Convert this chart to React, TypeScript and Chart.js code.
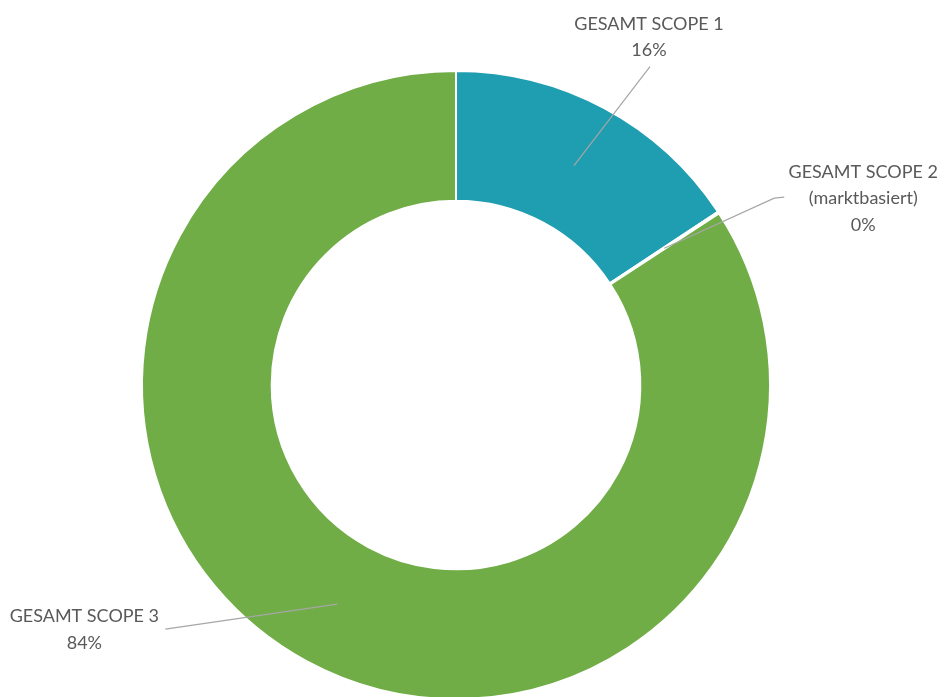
import React, { useEffect, useRef } from "react";
import { Chart, registerables } from "chart.js";

Chart.register(...registerables);

const categories = ["GESAMT SCOPE 1", "GESAMT SCOPE 2 (marktbasiert)", "GESAMT SCOPE 3"];
const labelLines = [["GESAMT SCOPE 1", "16%"], ["GESAMT SCOPE 2", "(marktbasiert)", "0%"], ["GESAMT SCOPE 3", "84%"]];
const shares = [15.7, 0.1, 84.2];
const colors = ["#1F9DB1", "#A5A5A5", "#70AD47"];

// label layout: offsets from slice anchor (mid-angle, mid-ring)
const labelLayout = [
  { leader: [[76, -99]], text: [75, -141.5] },
  { leader: [[110, -50], [120, -51]], text: [199, -76.5] },
  { leader: [[-172, 25]], text: [-253, 12.5] },
];

const labelPlugin = {
  id: "outLabels",
  afterDatasetsDraw(chart: any) {
    const ctx = chart.ctx;
    const meta = chart.getDatasetMeta(0);
    ctx.save();
    meta.data.forEach((arc: any, i: number) => {
      const p = arc.getProps(["x", "y", "startAngle", "endAngle", "innerRadius", "outerRadius"], true);
      const mid = (p.startAngle + p.endAngle) / 2;
      const r = (p.innerRadius + p.outerRadius) / 2;
      const ax = p.x + Math.cos(mid) * r;
      const ay = p.y + Math.sin(mid) * r;
      const L = labelLayout[i];
      ctx.strokeStyle = "#A6A6A6";
      ctx.lineWidth = 1.2;
      ctx.beginPath();
      ctx.moveTo(ax, ay);
      L.leader.forEach((o) => ctx.lineTo(ax + o[0], ay + o[1]));
      ctx.stroke();
      ctx.fillStyle = "#595959";
      ctx.font = "18px Lato, 'Open Sans', sans-serif";
      ctx.textAlign = "center";
      ctx.textBaseline = "middle";
      labelLines[i].forEach((t, k) => {
        ctx.fillText(t, ax + L.text[0], ay + L.text[1] + k * 26.5);
      });
    });
    ctx.restore();
  },
};

export default function App() {
  const ref = useRef<HTMLCanvasElement>(null);
  useEffect(() => {
    if (!ref.current) return;
    const chart = new Chart(ref.current, {
      type: "doughnut",
      data: {
        labels: categories,
        datasets: [
          {
            data: shares,
            backgroundColor: colors,
            borderColor: "#FFFFFF",
            borderWidth: 2,
          },
        ],
      },
      options: {
        responsive: false,
        animation: false,
        cutout: "58.7%",
        layout: { padding: { left: 141, right: 173, top: 70, bottom: 60 } },
        plugins: { legend: { display: false }, tooltip: { enabled: false } },
      },
      plugins: [labelPlugin],
    });
    return () => chart.destroy();
  }, []);
  return (
    <div style={{ position: "fixed", left: 0, top: 0, width: 944, height: 697, overflow: "hidden", background: "#fff" }}>
      <canvas ref={ref} width={944} height={760} style={{ width: 944, height: 760, display: "block" }} />
    </div>
  );
}
